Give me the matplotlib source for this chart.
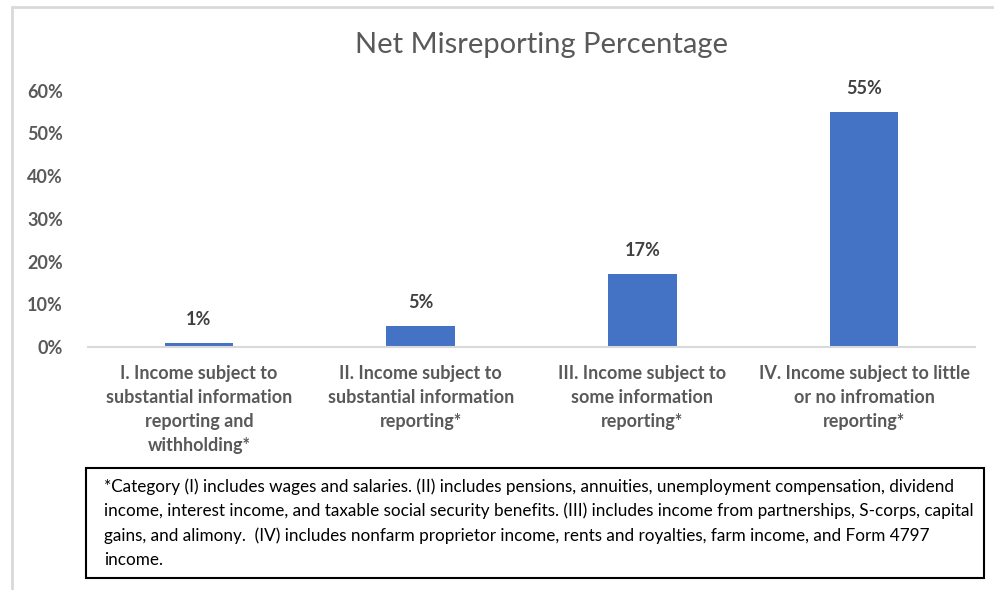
import matplotlib
matplotlib.use('Agg')
import matplotlib.pyplot as plt
from matplotlib.patches import Rectangle
from matplotlib.ticker import FuncFormatter

categories = [
    "I. Income subject to\nsubstantial information\nreporting and\nwithholding*",
    "II. Income subject to\nsubstantial information\nreporting*",
    "III. Income subject to\nsome information\nreporting*",
    "IV. Income subject to little\nor no infromation\nreporting*",
]
values = [0.01, 0.05, 0.17, 0.55]
y_ticks = [0, 0.1, 0.2, 0.3, 0.4, 0.5, 0.6]
footnote = ("*Category (I) includes wages and salaries. (II) includes pensions, annuities, unemployment compensation, dividend\n"
            "income, interest income, and taxable social security benefits. (III) includes income from partnerships, S-corps, capital\n"
            "gains, and alimony.  (IV) includes nonfarm proprietor income, rents and royalties, farm income, and Form 4797\n"
            "income.")

plt.rcParams['font.family'] = ["Lato", "DejaVu Sans"]

fig = plt.figure(figsize=(9.95, 5.9), dpi=100)

# outer chart frame
fig.patches.append(Rectangle((12 / 995, -0.05), 1.0, 1 - 7 / 590 + 0.05,
                             transform=fig.transFigure, fill=False,
                             edgecolor="#D9D9D9", linewidth=2))

ax = fig.add_axes([88 / 995, 1 - 347 / 590, 887 / 995, (347 - 90.6) / 590])
x = list(range(len(values)))
bars = ax.bar(x, values, width=0.31, color="#4472C4")
ax.set_xlim(-0.5, len(values) - 0.5)
ax.set_ylim(0, 0.6)
ax.set_yticks(y_ticks)
ax.yaxis.set_major_formatter(FuncFormatter(lambda v, p: f"{v * 100:.0f}%"))

for bar, v in zip(bars, values):
    ax.text(bar.get_x() + bar.get_width() / 2, v + 0.035, f"{v * 100:.0f}%",
            ha="center", va="bottom", fontsize=13, fontweight="bold", color="#404040")

for s in ["top", "right", "left"]:
    ax.spines[s].set_visible(False)
ax.spines["bottom"].set_color("#D9D9D9")
ax.spines["bottom"].set_linewidth(1.5)
ax.tick_params(axis="both", length=0)
ax.tick_params(axis="y", labelsize=13, labelcolor="#595959", pad=18)
for t in ax.get_yticklabels():
    t.set_fontweight("bold")

ax.set_xticks(x)
ax.set_xticklabels(categories, fontsize=13, fontweight="bold", color="#595959",
                   linespacing=1.5, va="top")
ax.tick_params(axis="x", pad=13)

fig.text(542 / 995, 1 - 45 / 590, "Net Misreporting Percentage", ha="center", va="center",
         fontsize=21, color="#595959")

# footnote box
fig.patches.append(Rectangle((86 / 995, 1 - 578 / 590), (984 - 86) / 995, (578 - 468) / 590,
                             transform=fig.transFigure, fill=False,
                             edgecolor="black", linewidth=1.5))
fig.text(104 / 995, 1 - 478 / 590, footnote, ha="left", va="top", fontsize=12.3,
         color="black", linespacing=1.6)

fig.savefig("out.png", dpi=100)
